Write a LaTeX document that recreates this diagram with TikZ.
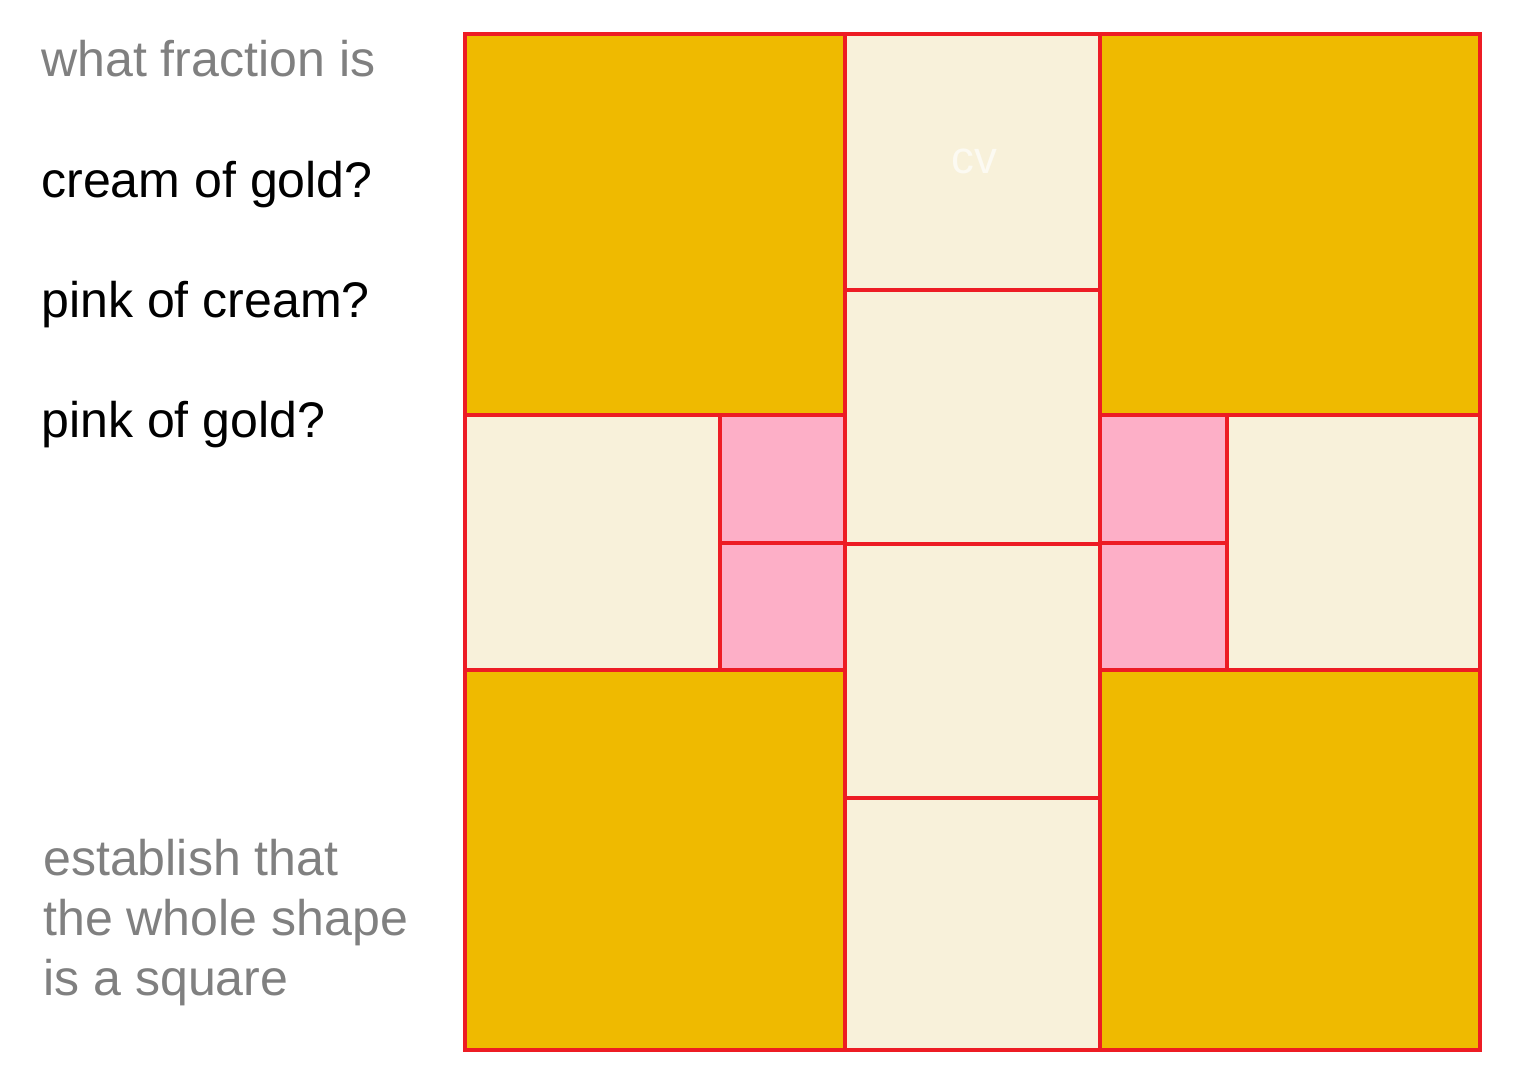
\documentclass[tikz,border=0pt]{standalone}
\usepackage{fontspec}
\setmainfont{Liberation Sans}
\definecolor{goldfill}{HTML}{EFBA00}
\definecolor{creamfill}{HTML}{F8F1DA}
\definecolor{pinkfill}{HTML}{FDAFC7}
\definecolor{edgered}{HTML}{ED1C24}
\definecolor{textgray}{HTML}{808080}
\begin{document}
\begin{tikzpicture}[x=0.02cm,y=-0.02cm]
        % styles
        \tikzstyle{gold}=[fill=goldfill, draw=edgered, line width=2.3pt]
        \tikzstyle{cream}=[fill=creamfill, draw=edgered, line width=2.3pt]
        \tikzstyle{pink}=[fill=pinkfill, draw=edgered, line width=2.3pt]
        \tikzstyle{question}=[anchor=base west, inner sep=0pt, font=\fontsize{28.5}{34}\selectfont]
        
        \useasboundingbox (0,0) rectangle (1522,1078);
        
        % gold corners
        \draw[gold] (465,34) rectangle (845,415);
        \draw[gold] (1100,34) rectangle (1480,415);
        \draw[gold] (465,670) rectangle (845,1050);
        \draw[gold] (1100,670) rectangle (1480,1050);
        
        % cream column
        \draw[cream] (845,34) rectangle (1100,290);
        \draw[cream] (845,290) rectangle (1100,544);
        \draw[cream] (845,544) rectangle (1100,798);
        \draw[cream] (845,798) rectangle (1100,1050);
        
        % cream sides
        \draw[cream] (465,415) rectangle (720,670);
        \draw[cream] (1227,415) rectangle (1480,670);
        
        % pink squares
        \draw[pink] (720,415) rectangle (845,543);
        \draw[pink] (720,543) rectangle (845,670);
        \draw[pink] (1100,415) rectangle (1227,543);
        \draw[pink] (1100,543) rectangle (1227,670);
        
        % faint mark
        \node[text=white!65!creamfill, font=\fontsize{26}{30}\selectfont] (cv) at (974,161) {cv};
        
        % questions
        \node[question, text=textgray] (what) at (41,77) {what fraction is};
        \node[question] (creamgold) at (41,197) {cream of gold?};
        \node[question] (pinkcream) at (41,317) {pink of cream?};
        \node[question] (pinkgold) at (41,437) {pink of gold?};
        
        % note
        \node[question, text=textgray] (establish) at (43,875) {establish that};
        \node[question, text=textgray] (whole) at (43,935) {the whole shape};
        \node[question, text=textgray] (square) at (43,995) {is a square};
    \end{tikzpicture}
\end{document}
